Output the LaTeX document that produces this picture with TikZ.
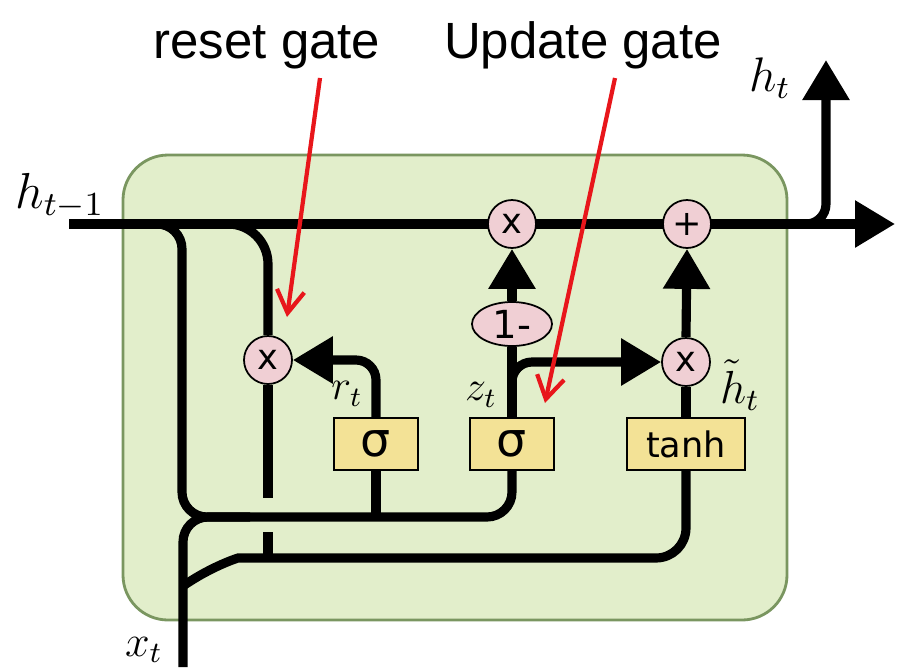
\documentclass[tikz,border=0pt]{standalone}
\usepackage{graphicx}
\usepackage{fontspec}
\setmainfont{Liberation Sans}
\newfontfamily\gatefont{DejaVu Sans}
\usetikzlibrary{arrows.meta,shapes.geometric,backgrounds}
\definecolor{gruFrame}{HTML}{7A9660}
\definecolor{gruFrameBg}{HTML}{E2EECB}
\definecolor{gruGate}{HTML}{F3E296}
\definecolor{gruOp}{HTML}{F0CFD4}
\definecolor{gruRed}{HTML}{E8161B}
\tikzset{
  frame/.style={draw=gruFrame, line width=1.6pt, fill=gruFrameBg, rounded corners=9mm},
  wire/.style={draw=black, line width=5.2pt},
  flow/.style={wire, -{Triangle[length=8mm,width=9mm]}},
  pointer/.style={draw=gruRed, line width=2.4pt, -{Straight Barb[length=4.5mm,width=5.5mm]}},
  op/.style={circle, draw, line width=1pt, fill=gruOp, minimum size=9.6mm,
             inner sep=0pt, font=\gatefont\fontsize{20}{20}\selectfont},
  opoval/.style={ellipse, draw, line width=1pt, fill=gruOp, minimum width=16mm,
             minimum height=8.8mm, inner sep=0pt, font=\gatefont\fontsize{22}{22}\selectfont},
  gatebox/.style={draw, line width=1pt, fill=gruGate, minimum width=#1,
             minimum height=10.4mm, inner sep=0pt, font=\gatefont\fontsize{20}{20}\selectfont},
  gatebox/.default=16.8mm,
  sigma/.style={gatebox, font=\gatefont\fontsize{27}{27}\selectfont},
  lbl/.style={inner sep=0pt, font=\fontsize{12}{12}\selectfont},
  gatetitle/.style={anchor=base, font=\fontsize{29}{29}\selectfont},
}
\newcommand{\cellvar}[2][2]{\scalebox{#1}{$#2$}}

\begin{document}
\begin{tikzpicture}[x=0.2mm, y=-0.2mm]
\useasboundingbox (0,0) rectangle (897,667);

% ---- operations
\node[op] (mulR)  at (268,360) {x};
\node[op] (mulZ)  at (512,224) {x};
\node[op] (plusH) at (687,224) {+};
\node[op] (mulH)  at (686,362) {x};
\node[opoval] (oneminus) at (512,324) {1-};

% ---- gates
\node[sigma] (sigR) at (376,444) {σ};
\node[sigma] (sigZ) at (512,444) {σ};
\node[gatebox=23.6mm] (tanhH) at (686,444) {tanh};

% ---- labels
\node[lbl] (hprev) at (60,196) {\cellvar[2.4]{h_{t-1}}};
\node[lbl] (hnext) at (770,78)  {\cellvar[2.3]{h_t}};
\node[lbl] (xin)   at (144,650) {\cellvar[2.1]{x_t}};
\node[lbl] (rt)    at (347,394) {\cellvar{r_t}};
\node[lbl] (zt)    at (481,395) {\cellvar{z_t}};
\node[lbl] (htil)  at (740,385) {\cellvar[2.2]{\tilde{h}_t}};
\node[gatetitle] (resetT)  at (267,58) {reset gate};
\node[gatetitle] (updateT) at (583,58) {Update gate};

% ---- wire ends
\coordinate (hin)   at (69,224);
\coordinate (hout)  at (895,224);
\coordinate (hsplit) at (795,224);
\coordinate (htop)  at (826,60);
\coordinate (bh)    at (138,224);
\coordinate (bh2)   at (215,224);
\coordinate (hz)    at (182,517);
\coordinate (xbot)  at (183,667);
\coordinate (xjoin) at (250,517);
\coordinate (xlow)  at (183,586);
\coordinate (gaptop) at (268,498);
\coordinate (gapbot) at (268,532);
\coordinate (rjoin) at (268,558);
\coordinate (zsplit) at ([yshift=5mm]sigZ.north);

\begin{scope}[on background layer]
  \draw[frame] (123,155) rectangle (787,620);
  % h_{t-1} to h_t
  \draw[flow] (hin) -- (hout);
  \draw[flow, rounded corners=4mm] (hsplit) -| (htop);
  % h_{t-1} and x_t into the gates
  \draw[wire, rounded corners=5mm] (bh) -| (hz) -| (sigZ.south);
  \draw[wire, rounded corners=5mm] (xbot) |- (xjoin);
  \draw[wire] (sigR.south) -- (sigR.south |- hz);
  \draw[wire, rounded corners=8mm] (bh2) -| (mulR.north);
  \draw[wire] (mulR.south) -- (gaptop);
  \draw[wire] (gapbot) -- (rjoin);
  \draw[wire, rounded corners=6mm] (xlow) .. controls (212,566) and (238,558) .. (rjoin) -| (tanhH.south);
  % gate outputs
  \draw[flow, rounded corners=4mm] (sigR.north) |- (mulR.east);
  \draw[wire] (sigZ.north) -- (oneminus.south);
  \draw[flow, rounded corners=4mm] (zsplit) |- (mulH.west);
  \draw[flow] (oneminus.north) -- (mulZ.south);
  \draw[wire] (tanhH.north) -- (mulH.south);
  \draw[flow] (mulH.north) -- (plusH.south);
\end{scope}

% ---- pointers from the titles
\coordinate (resetP) at (320,78);
\coordinate (resetQ) at (287,317);
\coordinate (updateP) at (615,78);
\coordinate (updateQ) at (545,403);
\draw[pointer] (resetP) -- (resetQ);
\draw[pointer] (updateP) -- (updateQ);

\end{tikzpicture}
\end{document}
